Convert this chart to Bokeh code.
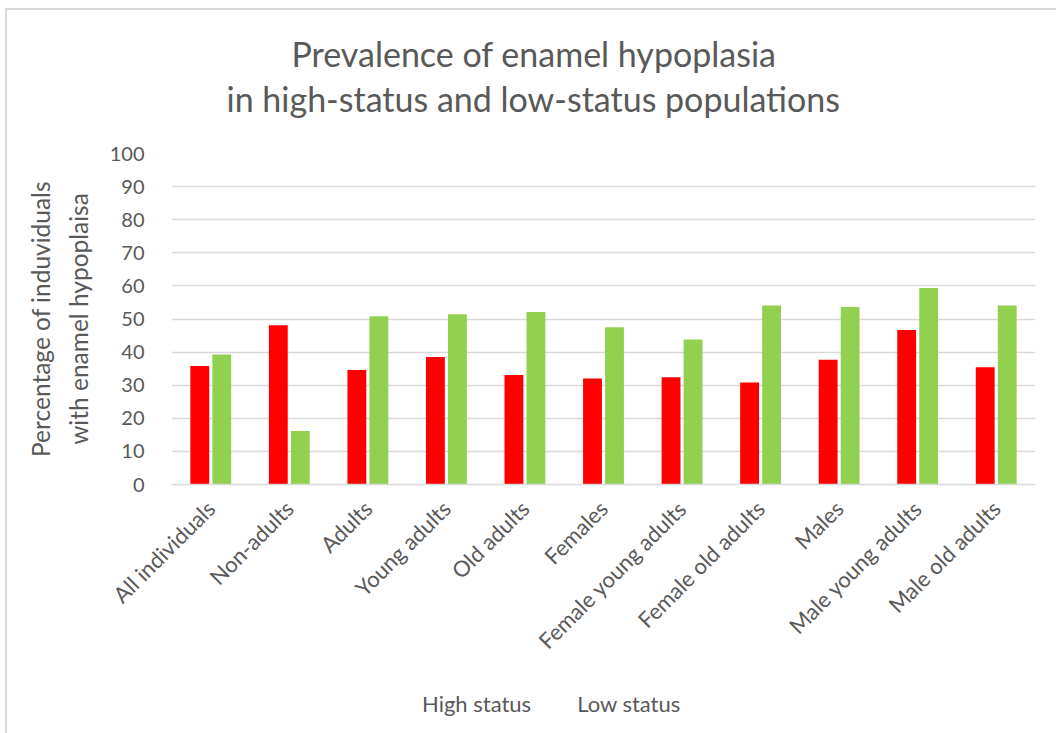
from bokeh.plotting import figure
from bokeh.layouts import column
from bokeh.models import (ColumnDataSource, FactorRange, Legend, LegendItem,
                          InlineStyleSheet, FixedTicker, Title, Range1d)
from bokeh.transform import dodge
from bokeh.embed import file_html
from bokeh.resources import INLINE
import math

# ---- data -------------------------------------------------------------
categories = [
    "All individuals", "Non-adults", "Adults", "Young adults", "Old adults",
    "Females", "Female young adults", "Female old adults", "Males",
    "Male young adults", "Male old adults",
]
high_status = [35.8, 48.1, 34.6, 38.5, 33.1, 32.0, 32.4, 30.8, 37.7, 46.7, 35.4]
low_status = [39.3, 16.2, 50.8, 51.4, 52.1, 47.5, 43.8, 54.1, 53.6, 59.4, 54.1]
y_ticks = [0, 10, 20, 30, 40, 50, 60, 70, 80, 90, 100]

title_lines = ["Prevalence of enamel hypoplasia",
               "in high-status and low-status populations"]
y_label = "Percentage of induviduals\nwith enamel hypoplaisa"
series_names = ["High status", "Low status"]

# ---- style ------------------------------------------------------------
FONT = "Lato"
TEXT = "#595959"
GRID = "#d9d9d9"
RED = "#ff0000"
GREEN = "#92d050"

source = ColumnDataSource(dict(cat=categories, high=high_status, low=low_status))

p = figure(
    x_range=FactorRange(*categories), y_range=(0, 100),
    frame_width=864, frame_height=331, title=None,
    output_backend="svg", toolbar_location=None,
    min_border_left=164, min_border_right=21,
    min_border_top=143, min_border_bottom=196,
    outline_line_color=None,
)

bar_w = 0.24
p.vbar(x=dodge("cat", -0.14, range=p.x_range), top="high", width=bar_w,
       source=source, fill_color=RED, line_color=None)
p.vbar(x=dodge("cat", 0.14, range=p.x_range), top="low", width=bar_w,
       source=source, fill_color=GREEN, line_color=None)

# grid
p.xgrid.grid_line_color = None
p.ygrid.grid_line_color = GRID
p.ygrid.grid_line_width = 1.3
p.yaxis.ticker = FixedTicker(ticks=y_ticks)

# y axis
p.yaxis.axis_line_color = None
p.yaxis.major_tick_line_color = None
p.yaxis.minor_tick_line_color = None
p.yaxis.major_label_text_font = FONT
p.yaxis.major_label_text_font_size = "20px"
p.yaxis.major_label_text_color = TEXT
p.yaxis.major_label_standoff = 21
p.yaxis.axis_label = y_label
p.yaxis.axis_label_text_font = FONT
p.yaxis.axis_label_text_font_size = "24.5px"
p.yaxis.axis_label_text_font_style = "normal"
p.yaxis.axis_label_text_color = TEXT
p.yaxis.axis_label_text_line_height = 1.3
p.yaxis.axis_label_standoff = 14

# x axis
p.xaxis.axis_line_color = GRID
p.xaxis.axis_line_width = 1.3
p.xaxis.major_tick_line_color = None
p.xaxis.minor_tick_line_color = None
p.xaxis.major_label_orientation = math.pi / 4
p.xaxis.major_label_text_font = FONT
p.xaxis.major_label_text_font_size = "22px"
p.xaxis.major_label_text_color = TEXT
p.xaxis.major_label_standoff = 14

# title: a thin gap above the plot area, then the two lines
p.add_layout(Title(text=" ", text_font_size="1px", standoff=30), "above")
for line, shift, gap in zip(reversed(title_lines), [55, 120], [4, 0]):
    p.add_layout(Title(text=line, align="left", offset=shift, standoff=gap,
                       text_font=FONT, text_font_size="34px",
                       text_font_style="normal", text_color=TEXT), "above")

# ---- legend strip under the chart -------------------------------------
key = figure(
    x_range=Range1d(0, 1), y_range=Range1d(0, 1),
    frame_width=864, frame_height=53,
    output_backend="svg", toolbar_location=None,
    x_axis_location=None, y_axis_location=None,
    min_border_left=164, min_border_right=21,
    min_border_top=0, min_border_bottom=0,
    outline_line_color=None,
)
key.grid.visible = False
# swatch renderers (no rows) carrying the series colours for the legend
k_high = key.vbar(x=[], top=[], width=bar_w, fill_color=RED, line_color=None)
k_low = key.vbar(x=[], top=[], width=bar_w, fill_color=GREEN, line_color=None)

legend = Legend(
    items=[LegendItem(label=series_names[0], renderers=[k_high]),
           LegendItem(label=series_names[1], renderers=[k_low])],
    orientation="horizontal", location=(231, 16),
    padding=0, margin=0, spacing=26, label_standoff=6,
    glyph_width=14, glyph_height=14,
    label_text_font=FONT, label_text_font_size="22px", label_text_color=TEXT,
    border_line_color=None, background_fill_alpha=0,
)
key.add_layout(legend)

page = column(p, key, spacing=0, stylesheets=[InlineStyleSheet(css=(
    ":host { margin: 8px 0 0 5px; border-top: 2px solid #d9d9d9;"
    " border-left: 2px solid #d9d9d9; }"))])

open("out.html", "w").write(file_html(page, INLINE))
